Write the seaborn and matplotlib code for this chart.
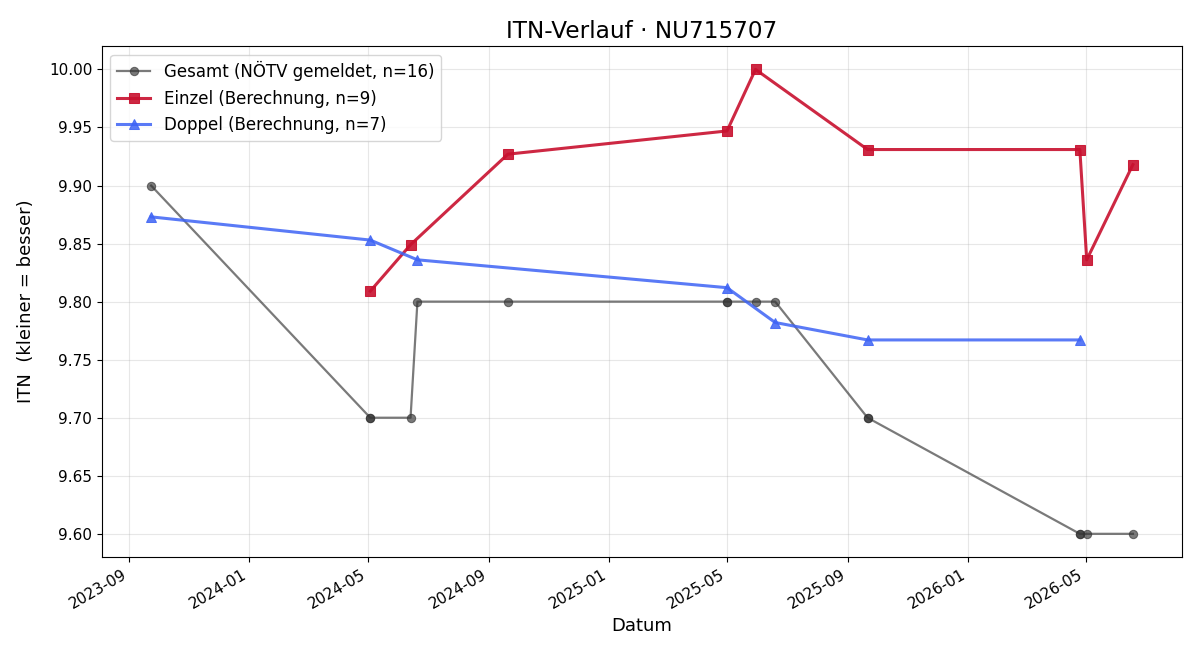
import seaborn as sns
import matplotlib.pyplot as plt
import matplotlib.dates as mdates
import pandas as pd

gesamt_dates = ["2023-09-23", "2024-05-03", "2024-05-03", "2024-06-13", "2024-06-20",
                "2024-09-20", "2025-05-01", "2025-05-01", "2025-05-30", "2025-06-19",
                "2025-09-21", "2025-09-21", "2026-04-25", "2026-04-25", "2026-05-02",
                "2026-06-18"]
gesamt_itn = [9.90, 9.70, 9.70, 9.70, 9.80, 9.80, 9.80, 9.80, 9.80, 9.80,
              9.70, 9.70, 9.60, 9.60, 9.60, 9.60]

einzel_dates = ["2024-05-03", "2024-06-13", "2024-09-20", "2025-05-01", "2025-05-30",
                "2025-09-21", "2026-04-25", "2026-05-02", "2026-06-18"]
einzel_itn = [9.809, 9.849, 9.927, 9.947, 10.000, 9.931, 9.931, 9.836, 9.918]

doppel_dates = ["2023-09-23", "2024-05-03", "2024-06-20", "2025-05-01", "2025-06-19",
                "2025-09-21", "2026-04-25"]
doppel_itn = [9.873, 9.853, 9.836, 9.812, 9.782, 9.767, 9.767]

plt.rcParams['font.family'] = ['DejaVu Sans']

fig, ax = plt.subplots(figsize=(12, 6.6), dpi=100)

sns.lineplot(x=pd.to_datetime(gesamt_dates), y=gesamt_itn, ax=ax, estimator=None, sort=False,
             color='#333333', alpha=0.65, marker='o', markersize=6, linewidth=1.6,
             markeredgecolor='#333333', label="Gesamt (NÖTV gemeldet, n=16)")
sns.lineplot(x=pd.to_datetime(einzel_dates), y=einzel_itn, ax=ax, estimator=None, sort=False,
             color='#c8102e', alpha=0.9, marker='s', markersize=7, linewidth=2.2,
             markeredgecolor='#c8102e', label="Einzel (Berechnung, n=9)")
sns.lineplot(x=pd.to_datetime(doppel_dates), y=doppel_itn, ax=ax, estimator=None, sort=False,
             color='#3d63f5', alpha=0.85, marker='^', markersize=7, linewidth=2.2,
             markeredgecolor='#3d63f5', label="Doppel (Berechnung, n=7)")

ax.set_title("ITN-Verlauf · NU715707", fontsize=16.7)
ax.set_xlabel("Datum", fontsize=13)
ax.set_ylabel("ITN  (kleiner = besser)", fontsize=13, labelpad=10)
ax.tick_params(labelsize=11)
ax.grid(True, alpha=0.3)
ax.xaxis.set_major_locator(mdates.MonthLocator(bymonth=[1, 5, 9]))
ax.xaxis.set_major_formatter(mdates.DateFormatter("%Y-%m"))
ax.yaxis.set_major_formatter(plt.FormatStrFormatter("%.2f"))
ax.legend(loc='upper left', fontsize=12)
fig.autofmt_xdate()
fig.subplots_adjust(left=0.085, right=0.985, top=0.93, bottom=0.156)
plt.savefig("out.png", dpi=100)
plt.close()
